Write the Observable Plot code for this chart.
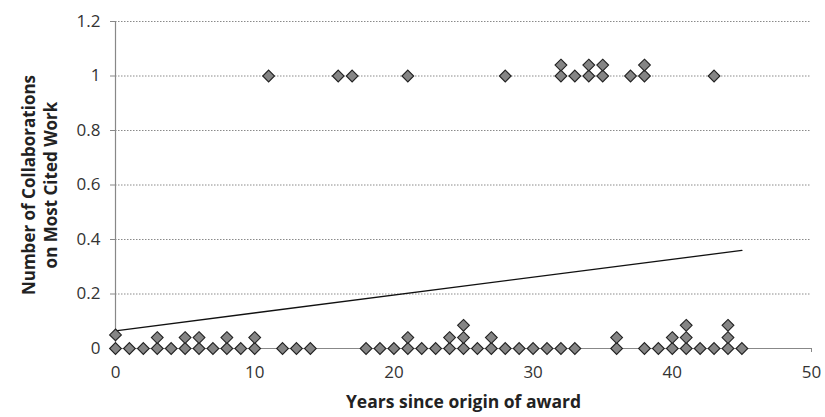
<!DOCTYPE html>
<html>
<head>
<meta charset="utf-8">
<script src="https://cdn.jsdelivr.net/npm/d3@7"></script>
<script src="https://cdn.jsdelivr.net/npm/@observablehq/plot@0.6"></script>
<style>
  html, body { margin: 0; padding: 0; background: #fff; }
  #chart svg { display: block; }
</style>
</head>
<body>
<div id="chart"></div>
<script>
// Years since origin of award (x) and number of collaborations (y), one entry per diamond
const pointX = [
  0, 0, 1, 2, 3, 3, 4, 5, 5, 6, 6, 7, 8, 8, 9, 10, 10, 12, 13, 14,
  18, 19, 20, 21, 21, 22, 23, 24, 24, 25, 25, 25, 26, 27, 27, 28, 29, 30, 31, 32, 33,
  36, 36, 38, 39, 40, 40, 41, 41, 41, 42, 43, 44, 44, 44, 45,
  11, 16, 17, 21, 28, 32, 32, 33, 34, 34, 35, 35, 37, 38, 38, 43
];
const pointY = [
  0, 0.05, 0, 0, 0, 0.04, 0, 0, 0.04, 0, 0.04, 0, 0, 0.04, 0, 0, 0.04, 0, 0, 0,
  0, 0, 0, 0, 0.04, 0, 0, 0, 0.04, 0, 0.04, 0.085, 0, 0, 0.04, 0, 0, 0, 0, 0, 0,
  0, 0.04, 0, 0, 0, 0.04, 0, 0.04, 0.085, 0, 0, 0, 0.04, 0.085, 0,
  1, 1, 1, 1, 1, 1, 1.04, 1, 1, 1.04, 1, 1.04, 1, 1, 1.04, 1
];
// Linear trend line endpoints
const trendX = [0, 45];
const trendY = [0.065, 0.36];
// Axis ticks
const xTicks = [0, 10, 20, 30, 40, 50];
const yTicks = [0, 0.2, 0.4, 0.6, 0.8, 1, 1.2];
const gridY = [0.2, 0.4, 0.6, 0.8, 1, 1.2];
const xTitle = "Years since origin of award";
const yTitle = "Number of Collaborations\non Most Cited Work";

const points = pointX.map((x, i) => ({x, y: pointY[i]}));
const trend = trendX.map((x, i) => ({x, y: trendY[i]}));

const chart = Plot.plot({
  width: 825,
  height: 417,
  marginLeft: 115,
  marginRight: 14,
  marginTop: 21,
  marginBottom: 69,
  x: {domain: [0, 50]},
  y: {domain: [0, 1.2]},
  style: {fontFamily: "'Open Sans', sans-serif", fontSize: "17px", color: "#222", background: "#fff"},
  marks: [
    Plot.ruleY(gridY, {stroke: "#8a8a8a", strokeDasharray: "1.5,1.5", strokeWidth: 1}),
    Plot.axisY({ticks: yTicks, tickFormat: d => `${d}`, tickSize: 5, tickPadding: 10, stroke: "#888", label: null, fontSize: 17, fill: "#333"}),
    Plot.axisX({ticks: xTicks, tickFormat: d => `${d}`, tickSize: 4, tickPadding: 13, stroke: "#888", label: null, fontSize: 17, fill: "#333"}),
    Plot.ruleX([0], {stroke: "#888", strokeWidth: 1.2}),
    Plot.ruleY([0], {stroke: "#888", strokeWidth: 1.2}),
    Plot.line(trend, {x: "x", y: "y", stroke: "#111", strokeWidth: 1.3}),
    Plot.dot(points, {x: "x", y: "y", symbol: "diamond2", r: 5.3, fill: "#858585", stroke: "#222", strokeWidth: 1.1}),
    Plot.text([xTitle], {frameAnchor: "bottom", dy: 59, fontWeight: "bold", fontSize: 17.5, fill: "#222"}),
    Plot.text([yTitle], {frameAnchor: "left", textAnchor: "middle", dx: -77, rotate: -90, fontWeight: "bold", fontSize: 17, lineHeight: 1.3, fill: "#222"})
  ]
});
document.getElementById("chart").appendChild(chart);
</script>
</body>
</html>
